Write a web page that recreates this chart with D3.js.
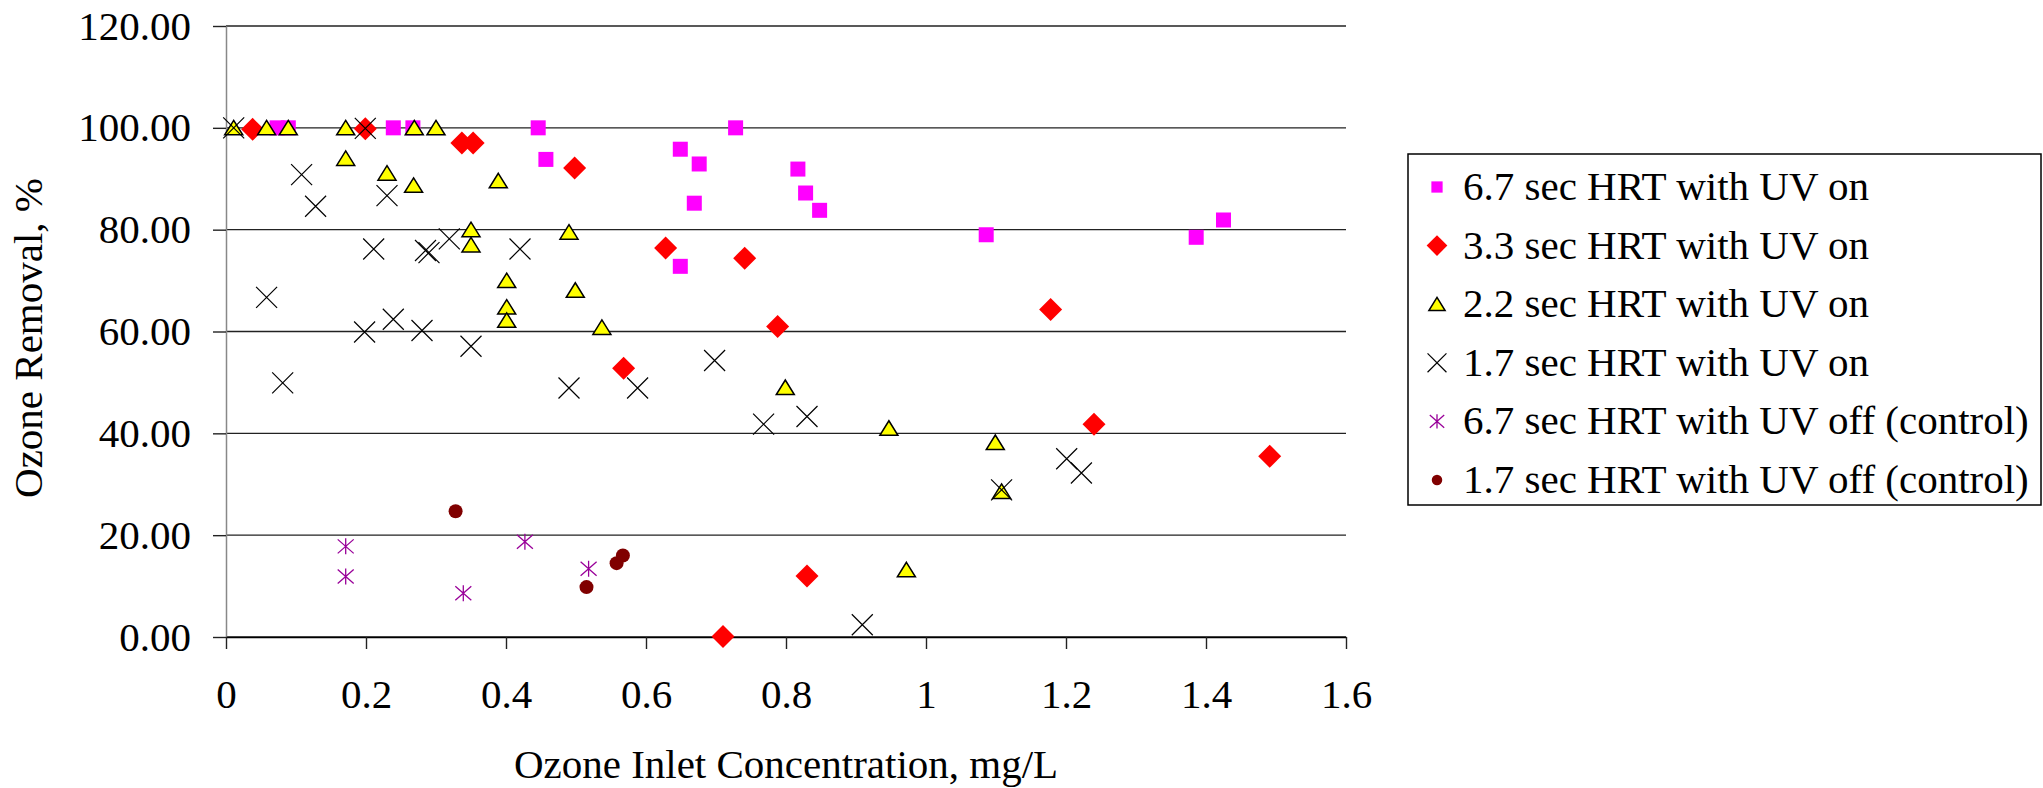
<!DOCTYPE html>
<html>
<head>
<meta charset="utf-8">
<script src="https://cdn.jsdelivr.net/npm/d3@7"></script>
<style>
  body { margin: 0; background: #fff; }
  svg text { font-family: "Liberation Serif", "Times New Roman", Times, serif; fill: #000; }
</style>
</head>
<body>
<div id="chart"></div>
<script>
// series values: [inlet ozone mg/L, removal %]
var hrt67On = [[0.073, 100], [0.089, 100], [0.239, 100], [0.267, 100], [0.446, 100], [0.728, 100],
  [0.457, 93.8], [0.649, 95.8], [0.676, 92.9], [0.669, 85.2], [0.649, 72.8], [0.817, 91.9],
  [0.828, 87.2], [0.848, 83.8], [1.086, 79.0], [1.386, 78.5], [1.425, 81.9]];
var hrt33On = [[0.038, 99.7], [0.199, 99.8], [0.337, 97.0], [0.353, 97.0], [0.498, 92.1],
  [0.628, 76.4], [0.741, 74.4], [0.788, 61.0], [0.568, 52.8], [1.178, 64.3], [1.240, 41.8],
  [1.491, 35.5], [0.830, 12.0], [0.710, 0.1]];
var hrt22On = [[0.011, 100], [0.058, 100], [0.089, 100], [0.171, 100], [0.269, 100], [0.300, 100],
  [0.171, 94.0], [0.230, 91.1], [0.268, 88.7], [0.389, 89.6], [0.350, 80.0], [0.350, 77.0],
  [0.401, 70.0], [0.401, 64.8], [0.401, 62.2], [0.490, 79.5], [0.499, 68.1], [0.537, 60.8],
  [0.799, 49.0], [0.947, 41.0], [1.099, 38.2], [1.108, 28.6], [0.972, 13.2]];
var hrt17On = [[0.011, 100], [0.199, 99.9], [0.108, 90.8], [0.128, 84.6], [0.230, 86.7],
  [0.058, 66.7], [0.211, 76.2], [0.285, 75.9], [0.290, 75.5], [0.319, 78.2], [0.420, 76.2],
  [0.198, 59.9], [0.239, 62.4], [0.280, 60.2], [0.350, 57.1], [0.081, 49.9], [0.490, 48.9],
  [0.588, 48.9], [0.698, 54.3], [0.768, 41.8], [0.830, 43.3], [1.201, 35.0], [1.222, 32.2],
  [1.108, 28.9], [0.909, 2.4]];
var hrt67Off = [[0.171, 17.8], [0.171, 11.9], [0.339, 8.6], [0.427, 18.7], [0.518, 13.4]];
var hrt17Off = [[0.328, 24.7], [0.515, 9.8], [0.558, 14.5], [0.567, 16.0]];

var seriesNames = ['6.7 sec HRT with UV on', '3.3 sec HRT with UV on', '2.2 sec HRT with UV on',
  '1.7 sec HRT with UV on', '6.7 sec HRT with UV off (control)', '1.7 sec HRT with UV off (control)'];
var seriesValues = [hrt67On, hrt33On, hrt22On, hrt17On, hrt67Off, hrt17Off];
var markerKinds = ['square', 'diamond', 'triangle', 'cross', 'star', 'circle'];

var xTicks = [0, 0.2, 0.4, 0.6, 0.8, 1, 1.2, 1.4, 1.6];
var yTicks = [0, 20, 40, 60, 80, 100, 120];

var W = 2043, H = 788;
var FONT = '"Liberation Serif", "Times New Roman", Times, serif';
var margins = {left: 226, top: 26, right: 697, bottom: 151};
var width = W - margins.left - margins.right;
var height = H - margins.top - margins.bottom;

var x = d3.scaleLinear().domain([0, 1.6]).range([0, width]);
var y = d3.scaleLinear().domain([0, 120]).range([height, 0]);

var svg = d3.select('#chart').append('svg')
  .attr('width', W).attr('height', H)
  .attr('font-family', FONT);

var g = svg.append('g').attr('transform', 'translate(' + margins.left + ',' + margins.top + ')');

// horizontal grid
g.append('g').selectAll('line').data(yTicks).enter().append('line')
  .attr('x1', 0).attr('x2', width)
  .attr('y1', function(d) { return y(d); }).attr('y2', function(d) { return y(d); })
  .attr('stroke', '#222').attr('stroke-width', 1.4);

// y axis
var yAxis = d3.axisLeft(y).tickValues(yTicks).tickFormat(d3.format('.2f'))
  .tickSizeInner(13).tickSizeOuter(0).tickPadding(22);
var ya = g.append('g').call(yAxis).attr('font-family', FONT).attr('font-size', 41);
ya.select('.domain').attr('stroke', '#888').attr('stroke-width', 1.5);
ya.selectAll('.tick line').attr('stroke', '#222').attr('stroke-width', 1.4);

// x axis
var xAxis = d3.axisBottom(x).tickValues(xTicks).tickFormat(function(d) { return String(d); })
  .tickSizeInner(12).tickSizeOuter(0).tickPadding(30);
var xa = g.append('g').attr('transform', 'translate(0,' + height + ')').call(xAxis)
  .attr('font-family', FONT).attr('font-size', 41);
xa.select('.domain').attr('stroke', '#000').attr('stroke-width', 1.4);
xa.selectAll('.tick line').attr('stroke', '#222').attr('stroke-width', 1.4);

// axis titles
svg.append('text').attr('x', margins.left + width / 2).attr('y', 778)
  .attr('text-anchor', 'middle').attr('font-size', 41)
  .text('Ozone Inlet Concentration, mg/L');
svg.append('text').attr('transform', 'translate(42,338) rotate(-90)')
  .attr('text-anchor', 'middle').attr('font-size', 41)
  .text('Ozone Removal, %');

// draw one marker of a given kind into a selection
function drawMarker(sel, kind, s) {
  s = s || 1;
  if (kind === 'square') {
    sel.append('rect').attr('x', -7.5 * s).attr('y', -7.5 * s).attr('width', 15 * s).attr('height', 15 * s)
      .attr('fill', '#FF00FF');
  } else if (kind === 'diamond') {
    sel.append('path').attr('d', 'M0,' + (-11.5 * s) + 'L' + (11.5 * s) + ',0L0,' + (11.5 * s) + 'L' + (-11.5 * s) + ',0Z')
      .attr('fill', '#FF0000');
  } else if (kind === 'triangle') {
    sel.append('path').attr('d', 'M0,' + (-7.5 * s) + 'L' + (9 * s) + ',' + (7 * s) + 'L' + (-9 * s) + ',' + (7 * s) + 'Z')
      .attr('fill', '#FFFF00').attr('stroke', '#000').attr('stroke-width', 1.5);
  } else if (kind === 'cross') {
    sel.append('path').attr('d', 'M' + (-10.5 * s) + ',' + (-10.5 * s) + 'L' + (10.5 * s) + ',' + (10.5 * s) +
      'M' + (10.5 * s) + ',' + (-10.5 * s) + 'L' + (-10.5 * s) + ',' + (10.5 * s))
      .attr('stroke', '#000').attr('stroke-width', 1.2).attr('fill', 'none');
  } else if (kind === 'star') {
    sel.append('path').attr('d', 'M' + (-8 * s) + ',' + (-7 * s) + 'L' + (8 * s) + ',' + (7 * s) +
      'M' + (8 * s) + ',' + (-7 * s) + 'L' + (-8 * s) + ',' + (7 * s) +
      'M0,' + (-8 * s) + 'L0,' + (8 * s))
      .attr('stroke', '#990099').attr('stroke-width', 1.3).attr('fill', 'none');
  } else if (kind === 'circle') {
    sel.append('circle').attr('r', 7 * s).attr('fill', '#800000');
  }
}

// points, drawn series by series in order
seriesValues.forEach(function(values, i) {
  var pts = g.append('g').selectAll('g').data(values).enter().append('g')
    .attr('transform', function(d) { return 'translate(' + x(d[0]) + ',' + y(d[1]) + ')'; });
  pts.each(function() { drawMarker(d3.select(this), markerKinds[i]); });
});

// legend
var legend = svg.append('g').attr('transform', 'translate(1408,154)');
legend.append('rect').attr('width', 633).attr('height', 351)
  .attr('fill', '#fff').attr('stroke', '#000').attr('stroke-width', 1.5);
var rows = legend.selectAll('g.row').data(seriesNames).enter().append('g')
  .attr('class', 'row')
  .attr('transform', function(d, i) { return 'translate(0,' + (33 + i * 58.6) + ')'; });
rows.each(function(d, i) {
  var m = d3.select(this).append('g').attr('transform', 'translate(29,0)');
  drawMarker(m, markerKinds[i], i === 0 || i === 5 ? 0.75 : 0.9);
});
rows.append('text').attr('x', 55).attr('y', 13).attr('font-size', 41)
  .text(function(d) { return d; });
</script>
</body>
</html>
